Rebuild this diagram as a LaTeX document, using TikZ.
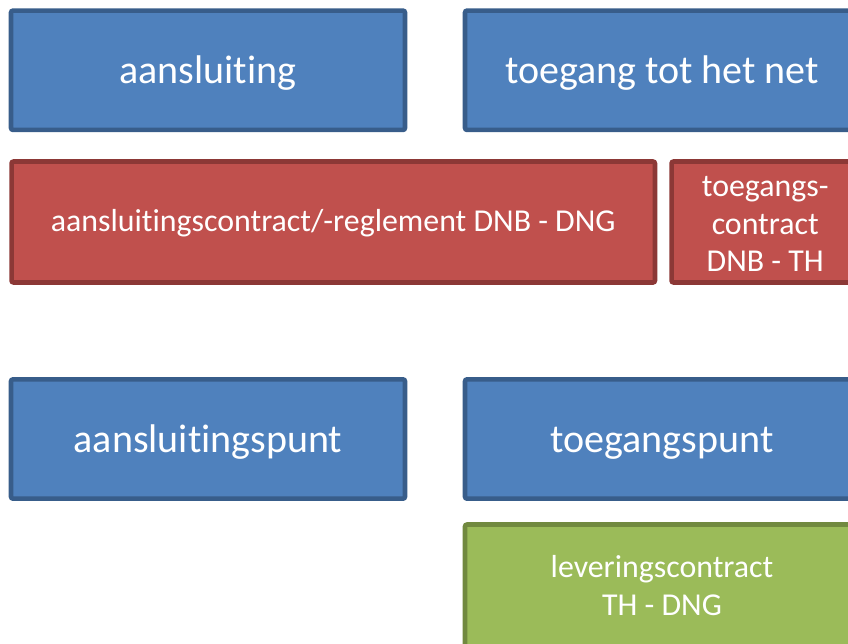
\documentclass[tikz,border=0pt]{standalone}
\usepackage{fontspec}
\setmainfont{Carlito}[Ligatures=NoCommon]
\usepackage{tikz}
\definecolor{vakblauw}{HTML}{4F81BD}
\definecolor{randblauw}{HTML}{385D8A}
\definecolor{vakrood}{HTML}{C0504D}
\definecolor{randrood}{HTML}{8C3836}
\definecolor{vakgroen}{HTML}{9BBB59}
\definecolor{randgroen}{HTML}{71893F}
\tikzstyle{vak}=[draw, line width=3.4pt, rounded corners=1.5pt, text=white,
    align=center, inner sep=0pt]
\tikzstyle{groot}=[vak, fill=vakblauw, draw=randblauw, minimum width=295.5pt,
    minimum height=90pt, font=\fontsize{30}{36}\selectfont,
    text height=19.5pt, text depth=0pt]
\tikzstyle{contract}=[vak, fill=vakrood, draw=randrood, minimum height=90.75pt,
    font=\fontsize{23.9}{28.2}\selectfont]

\begin{document}
\begin{tikzpicture}[x=0.75pt, y=-0.75pt]
  \useasboundingbox (0,0) rectangle (848,643);
  \clip (0,0) rectangle (848,643);

  \foreach \name/\x/\y/\tekst in {aansl/208/70.25/aansluiting,
                                  toeg/662/70.25/toegang tot het net,
                                  aanslpunt/208/439/aansluitingspunt,
                                  toegpunt/662/439/toegangspunt}
        \node[groot, minimum height=89.5pt] (\name) at (\x,\y) {\tekst};

  \node[contract, minimum width=482.6pt, text height=13.5pt, text depth=0pt]
      (aanslcontract) at (333.25,222) {aansluitingscontract/-reglement DNB - DNG};
  \node[contract, minimum width=140.6pt] (toegcontract) at (765.25,222)
      {\rule{0pt}{18.5pt}toegangs-\\contract\\DNB - TH};
  \node[contract, fill=vakgroen, draw=randgroen, minimum width=295.5pt,
      minimum height=91.5pt] (levcontract) at (662,585.5)
      {leveringscontract\\TH - DNG};

\end{tikzpicture}
\end{document}
